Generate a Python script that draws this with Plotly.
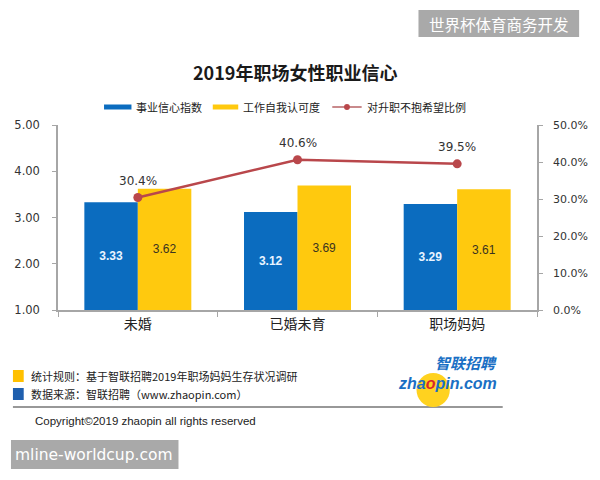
import plotly.graph_objects as go

categories = ["未婚", "已婚未育", "职场妈妈"]
career_confidence = [3.33, 3.12, 3.29]
self_recognition = [3.62, 3.69, 3.61]
no_promotion_hope = [0.304, 0.406, 0.395]
left_ticks = [1, 2, 3, 4, 5]
right_ticks = [0, 0.1, 0.2, 0.3, 0.4, 0.5]

BLUE = "#0b6cbf"
YELLOW = "#ffc90e"
RED = "#b9474b"
FONT = "Noto Sans CJK SC"

W, H = 600, 480
L, R, T, B = 58, 53, 125, 170
PW, PH = W - L - R, H - T - B


def px(x):
    return (x - L) / PW


def py(y):
    return (H - B - y) / PH


fig = go.Figure()
base = 1
fig.add_trace(go.Bar(
    x=categories, y=[v - base for v in career_confidence], base=base,
    name="事业信心指数", marker=dict(color=BLUE, line=dict(width=0)),
    text=[f"{v:.2f}" for v in career_confidence], textposition="inside",
    insidetextanchor="middle", textangle=0,
    textfont=dict(color="#e8f4ff", size=12, family="Liberation Sans", weight="bold"),
    showlegend=False,
))
fig.add_trace(go.Bar(
    x=categories, y=[v - base for v in self_recognition], base=base,
    name="工作自我认可度", marker=dict(color=YELLOW, line=dict(width=0)),
    text=[f"{v:.2f}" for v in self_recognition], textposition="inside",
    insidetextanchor="middle", textangle=0,
    textfont=dict(color="#3a3320", size=12, family="Liberation Sans"),
    showlegend=False,
))
fig.add_trace(go.Scatter(
    x=categories, y=no_promotion_hope, yaxis="y2", mode="lines+markers",
    name="对升职不抱希望比例", line=dict(color=RED, width=2.5),
    marker=dict(color=RED, size=9), showlegend=False,
))

annotations = []
for c, v in zip(categories, no_promotion_hope):
    annotations.append(dict(
        x=c, y=v, xref="x", yref="y2", text=f"{v*100:.1f}%", showarrow=False,
        yshift=17, font=dict(size=12, color="#333333", family="DejaVu Sans"),
    ))

# Title
annotations.append(dict(
    x=px(300), y=py(72), xref="paper", yref="paper", text="<b>2019年职场女性职业信心</b>",
    showarrow=False, font=dict(size=18, color="#1a1a1a", family=FONT),
    xanchor="center", yanchor="middle",
))

shapes = []
# Custom legend
legend_items = [
    (105, 133, "bar", BLUE, "事业信心指数"),
    (216, 242, "bar", YELLOW, "工作自我认可度"),
    (338, 368, "line", RED, "对升职不抱希望比例"),
]
for x0, x1, kind, col, label in legend_items:
    if kind == "bar":
        shapes.append(dict(type="rect", xref="paper", yref="paper",
                           x0=px(x0), x1=px(x1), y0=py(109.5), y1=py(104.5),
                           fillcolor=col, line=dict(width=0)))
    else:
        shapes.append(dict(type="line", xref="paper", yref="paper",
                           x0=px(x0), x1=px(x1), y0=py(107), y1=py(107),
                           line=dict(color="#c98a8c", width=2)))
        shapes.append(dict(type="circle", xref="paper", yref="paper",
                           x0=px(350), x1=px(356), y0=py(110), y1=py(104),
                           fillcolor=RED, line=dict(width=0)))
    annotations.append(dict(
        x=px(x1 + 3), y=py(107), xref="paper", yref="paper", text=label,
        showarrow=False, xanchor="left", yanchor="middle",
        font=dict(size=11, color="#222222", family=FONT),
    ))

# Footer
shapes.append(dict(type="rect", xref="paper", yref="paper",
                   x0=px(12), x1=px(23), y0=py(382), y1=py(370),
                   fillcolor="#ffc000", line=dict(width=0)))
shapes.append(dict(type="rect", xref="paper", yref="paper",
                   x0=px(12), x1=px(23), y0=py(400), y1=py(388),
                   fillcolor="#1f5fae", line=dict(width=0)))
shapes.append(dict(type="line", xref="paper", yref="paper",
                   x0=px(12), x1=px(512), y0=py(407), y1=py(407),
                   line=dict(color="#333333", width=1.2)))
annotations.append(dict(
    x=px(28), y=py(376), xref="paper", yref="paper",
    text="统计规则：基于智联招聘2019年职场妈妈生存状况调研", showarrow=False,
    xanchor="left", yanchor="middle", font=dict(size=11, color="#222222", family=FONT),
))
annotations.append(dict(
    x=px(28), y=py(394), xref="paper", yref="paper",
    text="数据来源：智联招聘（www.zhaopin.com）", showarrow=False,
    xanchor="left", yanchor="middle", font=dict(size=11, color="#222222", family=FONT),
))
annotations.append(dict(
    x=px(32), y=py(421), xref="paper", yref="paper",
    text="Copyright©2019 zhaopin all rights reserved", showarrow=False,
    xanchor="left", yanchor="middle", font=dict(size=11.5, color="#222222", family="Liberation Sans"),
))

# Logo
shapes.append(dict(type="circle", xref="paper", yref="paper",
                   x0=px(424), x1=px(458), y0=py(407), y1=py(373),
                   fillcolor="#ffd21f", line=dict(width=0)))
annotations.append(dict(
    x=px(508), y=py(362), xref="paper", yref="paper", text="<b><i>智联招聘</i></b>",
    showarrow=False, xanchor="right", yanchor="middle",
    font=dict(size=15, color="#1a6fc4", family=FONT),
))
annotations.append(dict(
    x=px(508), y=py(383), xref="paper", yref="paper",
    text="<b><i>zha<span style='color:#d9262c'>o</span>pin.com</i></b>",
    showarrow=False, xanchor="right", yanchor="middle",
    font=dict(size=16, color="#1a6fc4", family="Liberation Sans"),
))

# Watermarks
shapes.append(dict(type="rect", xref="paper", yref="paper",
                   x0=px(426), x1=px(590), y0=py(37), y1=py(10),
                   fillcolor="#a9a9a9", line=dict(width=0)))
annotations.append(dict(
    x=px(508), y=py(24), xref="paper", yref="paper", text="世界杯体育商务开发",
    showarrow=False, xanchor="center", yanchor="middle",
    font=dict(size=15.5, color="#ffffff", family=FONT),
))
shapes.append(dict(type="rect", xref="paper", yref="paper",
                   x0=px(10), x1=px(181), y0=py(469), y1=py(440),
                   fillcolor="#a9a9a9", line=dict(width=0)))
annotations.append(dict(
    x=px(95), y=py(455), xref="paper", yref="paper", text="mline-worldcup.com",
    showarrow=False, xanchor="center", yanchor="middle",
    font=dict(size=15.5, color="#ffffff", family="DejaVu Sans"),
))

fig.update_layout(
    width=W, height=H, margin=dict(l=L, r=R, t=T, b=B, pad=0),
    paper_bgcolor="white", plot_bgcolor="white",
    barmode="group", bargap=0.33, bargroupgap=0,
    font=dict(family=FONT, color="#333333"),
    xaxis=dict(
        showline=True, linecolor="#a6a6a6", linewidth=1.5,
        ticks="outside", tickson="boundaries", ticklen=5, tickcolor="#a6a6a6",
        tickfont=dict(size=14, color="#222222", family=FONT),
        showgrid=False, fixedrange=True,
    ),
    yaxis=dict(
        range=[1, 5], tickvals=left_ticks, tickformat=".2f",
        showline=True, linecolor="#a6a6a6", linewidth=1.5,
        ticks="outside", ticklen=4, tickcolor="#a6a6a6",
        tickfont=dict(size=11.5, color="#333333", family="DejaVu Sans"),
        showgrid=False, zeroline=False, ticklabelstandoff=10,
    ),
    yaxis2=dict(
        range=[0, 0.5], tickvals=right_ticks, tickformat=".1%",
        overlaying="y", side="right",
        showline=True, linecolor="#a6a6a6", linewidth=1.5,
        ticks="outside", ticklen=4, tickcolor="#a6a6a6",
        tickfont=dict(size=11, color="#333333", family="DejaVu Sans"),
        showgrid=False, zeroline=False, ticklabelstandoff=8,
    ),
    shapes=shapes, annotations=annotations,
)

fig.write_html("out.html")
